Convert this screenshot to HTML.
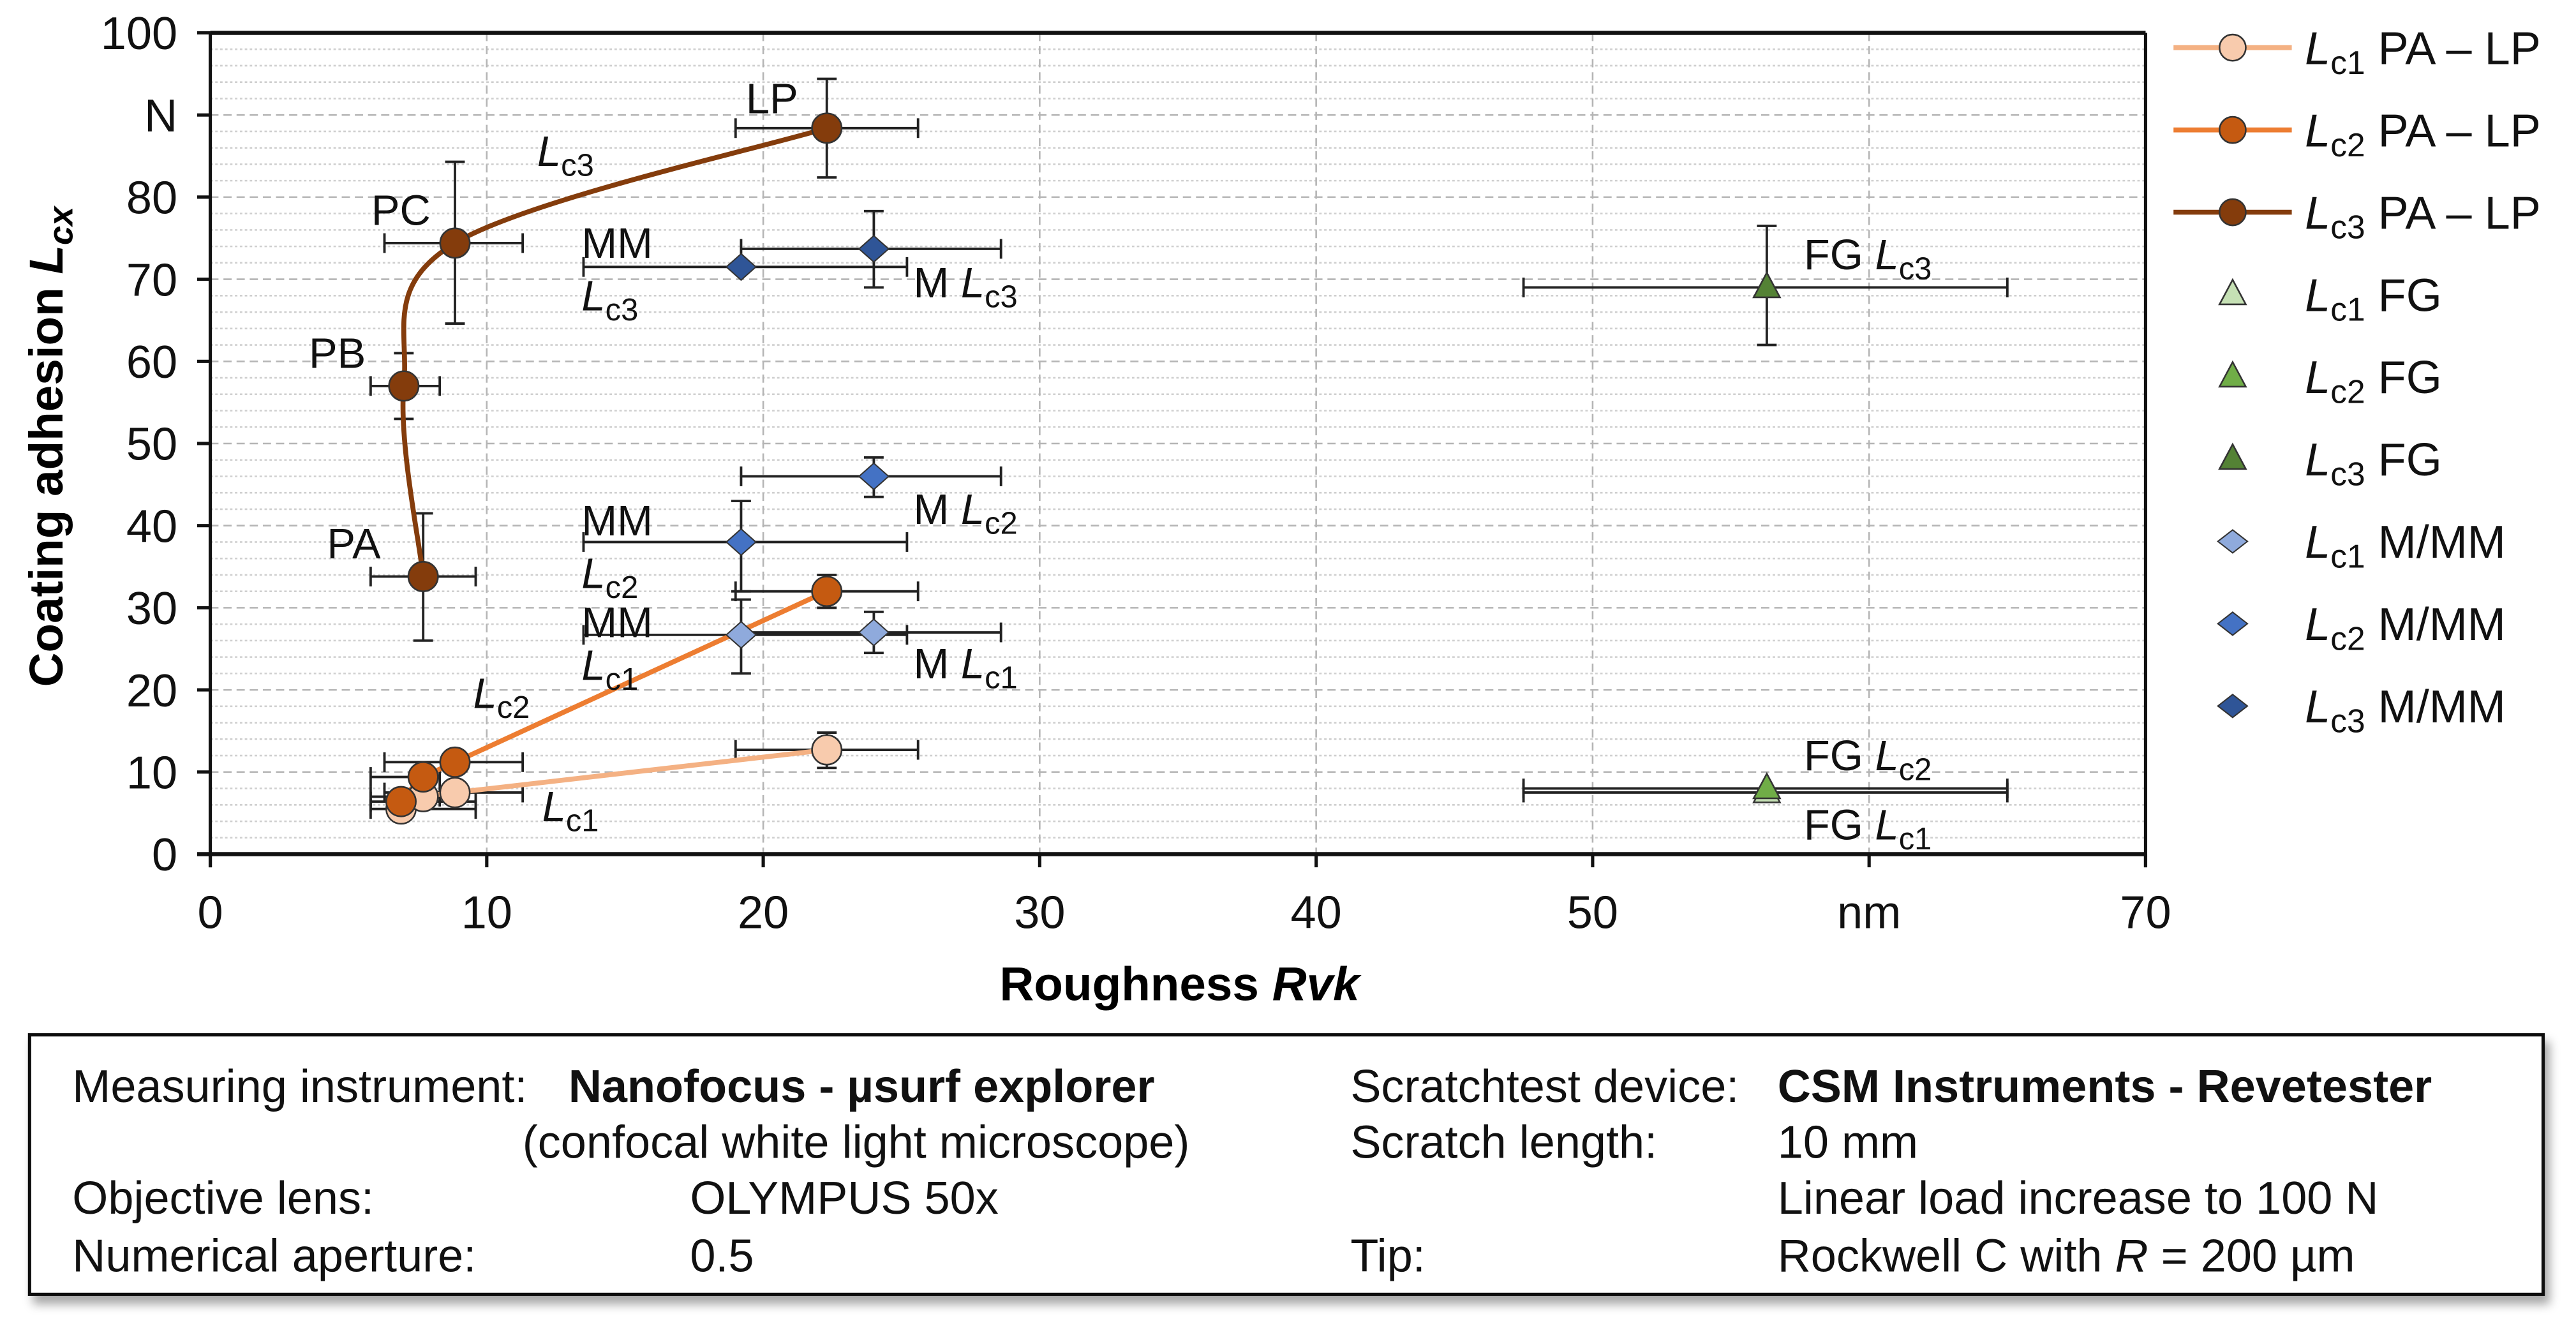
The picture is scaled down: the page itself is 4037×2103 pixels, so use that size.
<!DOCTYPE html>
<html><head><meta charset="utf-8">
<style>
html,body{margin:0;padding:0;background:#fff;}
svg{display:block;font-family:"Liberation Sans",Arial,sans-serif;}
</style></head>
<body>
<svg id="chart" width="4037" height="2103" viewBox="0 0 1568 817" preserveAspectRatio="none" xmlns="http://www.w3.org/2000/svg">
<defs>
<filter id="sh" x="-5%" y="-10%" width="110%" height="130%"><feDropShadow dx="3" dy="5" stdDeviation="3" flood-color="#000" flood-opacity="0.35"/></filter>
</defs>
<g id="grid"></g>
<g id="series"></g>
<g id="axes"></g>
<g id="ann" font-size="26" fill="#111"></g>
<text transform="translate(38,272) rotate(-90)" text-anchor="middle" font-size="29" font-weight="bold">Coating adhesion <tspan font-style="italic">L</tspan><tspan font-style="italic" font-size="21" dy="6">cx</tspan></text>
<text x="718" y="609" text-anchor="middle" font-size="29" font-weight="bold">Roughness <tspan font-style="italic">Rvk</tspan></text>
<g id="legend" font-size="28"></g>
<g font-size="28" fill="#111">
<rect x="18" y="630" width="1530" height="158" fill="#fff" stroke="#111" stroke-width="2" filter="url(#sh)"/>
<text x="44" y="671">Measuring instrument:</text>
<text x="346" y="671" font-weight="bold">Nanofocus - µsurf explorer</text>
<text x="318" y="705">(confocal white light microscope)</text>
<text x="44" y="739">Objective lens:</text>
<text x="420" y="739">OLYMPUS 50x</text>
<text x="44" y="774">Numerical aperture:</text>
<text x="420" y="774">0.5</text>
<text x="822" y="671">Scratchtest device:</text>
<text x="1082" y="671" font-weight="bold">CSM Instruments - Revetester</text>
<text x="822" y="705">Scratch length:</text>
<text x="1082" y="705">10 mm</text>
<text x="1082" y="739">Linear load increase to 100 N</text>
<text x="822" y="774">Tip:</text>
<text x="1082" y="774">Rockwell C with <tspan font-style="italic">R</tspan> = 200 µm</text>
</g>
</svg>
<script>
const xTicks=[0,10,20,30,40,50,60,70];
const xTickLabels=["0","10","20","30","40","50","nm","70"];
const yTicks=[0,10,20,30,40,50,60,70,80,90,100];
const yTickLabels=["0","10","20","30","40","50","60","70","80","N","100"];
// PA-LP series (PA, PB, PC, LP)
const lc3X=[7.7,7.0,8.85,22.3];
const lc3Y=[33.8,57,74.4,88.4];
const lc3XErrLo=[5.8,5.8,6.3,19];
const lc3XErrHi=[9.6,8.3,11.3,25.6];
const lc3YErrLo=[26,53,64.6,82.4];
const lc3YErrHi=[41.5,61,84.3,94.4];
const lc2X=[6.9,7.7,8.85,22.3];
const lc2Y=[6.4,9.4,11.2,32];
const lc1X=[6.9,7.7,8.85,22.3];
const lc1Y=[5.5,7.0,7.5,12.7];
// M/MM (MM, M)
const mX=[19.2,24];
const mLc1=[26.7,27];
const mLc2=[38,46];
const mLc3=[71.5,73.7];
// FG
const fgX=[56.3];
const fgLc1=[7.5];
const fgLc2=[8];
const fgLc3=[69];

const X0=128,X1=1306,Y0=520,Y1=20;
const sx=v=>X0+(v-0)/70*(X1-X0);
const sy=v=>Y0-(v-0)/100*(Y0-Y1);
const NS="http://www.w3.org/2000/svg";
function mk(parent,tag,attrs){const e=document.createElementNS(NS,tag);for(const k in attrs)e.setAttribute(k,attrs[k]);parent.appendChild(e);return e;}
const grid=document.getElementById('grid'),series=document.getElementById('series'),axes=document.getElementById('axes'),ann=document.getElementById('ann'),legend=document.getElementById('legend');

for(let v=2;v<100;v+=2){if(v%10===0)continue;const l=mk(grid,'line',{x1:X0,x2:X1,y1:sy(v),y2:sy(v),stroke:'#cfcfcf','stroke-width':1,'stroke-dasharray':'1.5 1.5'});

}
yTicks.forEach(v=>{if(v===0||v===100)return;const l=mk(grid,'line',{x1:X0,x2:X1,y1:sy(v),y2:sy(v),stroke:'#b5b5b5','stroke-width':1,'stroke-dasharray':'5 3'});

});
xTicks.forEach(v=>{if(v===0||v===70)return;const l=mk(grid,'line',{x1:sx(v),x2:sx(v),y1:Y1,y2:Y0,stroke:'#b5b5b5','stroke-width':1,'stroke-dasharray':'5 3'});

});

mk(axes,'line',{x1:X0,x2:X1,y1:Y1,y2:Y1,stroke:'#111','stroke-width':2.5});
mk(axes,'line',{x1:X1,x2:X1,y1:Y1,y2:Y0+8,stroke:'#111','stroke-width':2});
mk(axes,'line',{x1:X0,x2:X0,y1:Y1,y2:Y0+8,stroke:'#111','stroke-width':2});
mk(axes,'line',{x1:X0-8,x2:X1,y1:Y0,y2:Y0,stroke:'#111','stroke-width':2.5});
yTicks.forEach((v,i)=>{mk(axes,'line',{x1:X0-8,x2:X0,y1:sy(v),y2:sy(v),stroke:'#111','stroke-width':2});
const t=mk(axes,'text',{x:X0-20,y:sy(v)+10,'text-anchor':'end','font-size':28,fill:'#111'});t.textContent=yTickLabels[i];

});
xTicks.forEach((v,i)=>{mk(axes,'line',{x1:sx(v),x2:sx(v),y1:Y0,y2:Y0+8,stroke:'#111','stroke-width':2});
const t=mk(axes,'text',{x:sx(v),y:565,'text-anchor':'middle','font-size':28,fill:'#111'});t.textContent=xTickLabels[i];

});

function errX(x,y,lo,hi,name){const g=mk(series,'g',{stroke:'#222','stroke-width':1.5});


mk(g,'line',{x1:sx(lo),x2:sx(hi),y1:sy(y),y2:sy(y)});mk(g,'line',{x1:sx(lo),x2:sx(lo),y1:sy(y)-6,y2:sy(y)+6});mk(g,'line',{x1:sx(hi),x2:sx(hi),y1:sy(y)-6,y2:sy(y)+6});}
function errY(x,lo,hi,name){const g=mk(series,'g',{stroke:'#222','stroke-width':1.5});


mk(g,'line',{x1:sx(x),x2:sx(x),y1:sy(lo),y2:sy(hi)});mk(g,'line',{x1:sx(x)-6,x2:sx(x)+6,y1:sy(lo),y2:sy(lo)});mk(g,'line',{x1:sx(x)-6,x2:sx(x)+6,y1:sy(hi),y2:sy(hi)});}
function curve(xs,ys){const p=xs.map((x,i)=>[sx(x),sy(ys[i])]);let d='M'+p[0][0]+','+p[0][1];
for(let i=0;i<p.length-1;i++){const a=p[Math.max(0,i-1)],b=p[i],c=p[i+1],e=p[Math.min(p.length-1,i+2)];const t=6;
d+=' C'+(b[0]+(c[0]-a[0])/t)+','+(b[1]+(c[1]-a[1])/t)+' '+(c[0]-(e[0]-b[0])/t)+','+(c[1]-(e[1]-b[1])/t)+' '+c[0]+','+c[1];}return d;}
function tri(x,y,fill,name){const X=sx(x),Y=sy(y);const p=mk(series,'polygon',{points:`${X},${Y-9} ${X-8},${Y+6} ${X+8},${Y+6}`,fill,stroke:'#333','stroke-width':1});

}
function dia(x,y,fill,name){const X=sx(x),Y=sy(y);const p=mk(series,'polygon',{points:`${X},${Y-8} ${X+9},${Y} ${X},${Y+8} ${X-9},${Y}`,fill,stroke:'#333','stroke-width':0.8});

}
function circ(x,y,fill,name){const c=mk(series,'circle',{cx:sx(x),cy:sy(y),r:9,fill,stroke:'#333','stroke-width':1});

}

errX(fgX[0],fgLc3[0],47.5,65,'fg-lc3-xerr');errY(fgX[0],62,76.5,'fg-lc3-yerr');
errX(fgX[0],fgLc2[0],47.5,65,'fg-lc2-xerr');errX(fgX[0],fgLc1[0],47.5,65,'fg-lc1-xerr');
const mXLo=[13.5,19.2],mXHi=[25.2,28.6];
[mLc1,mLc2,mLc3].forEach((arr,k)=>arr.forEach((y,i)=>errX(mX[i],y,mXLo[i],mXHi[i],'mmm-lc'+(k+1)+'-xerr')));
errY(mX[1],69,78.3,'m-lc3-yerr');errY(mX[0],32,43,'mm-lc2-yerr');errY(mX[1],43.5,48.3,'m-lc2-yerr');
errY(mX[0],22,31,'mm-lc1-yerr');errY(mX[1],24.5,29.5,'m-lc1-yerr');
lc3X.forEach((x,i)=>{errX(x,lc3Y[i],lc3XErrLo[i],lc3XErrHi[i],'lc3-xerr');errY(x,lc3YErrLo[i],lc3YErrHi[i],'lc3-yerr');});
lc2X.forEach((x,i)=>errX(x,lc2Y[i],lc3XErrLo[i],lc3XErrHi[i],'lc2-xerr'));
lc1X.forEach((x,i)=>errX(x,lc1Y[i],lc3XErrLo[i],lc3XErrHi[i],'lc1-xerr'));
errY(lc2X[3],30,34,'lc2-lp-yerr');errY(lc1X[3],10.5,14.8,'lc1-lp-yerr');

const colL1='#F4B183',colL2='#ED7D31',colL3='#843C0C';
[[lc1X,lc1Y,colL1,'lc1-line'],[lc2X,lc2Y,colL2,'lc2-line'],[lc3X,lc3Y,colL3,'lc3-line']].forEach(s=>{const p=mk(series,'path',{d:curve(s[0],s[1]),fill:'none',stroke:s[2],'stroke-width':3});

});
lc1X.forEach((x,i)=>circ(x,lc1Y[i],'#F8CBAD','lc1-point'));
lc2X.forEach((x,i)=>circ(x,lc2Y[i],'#C55A11','lc2-point'));
lc3X.forEach((x,i)=>circ(x,lc3Y[i],'#843C0C','lc3-point'));
mX.forEach((x,i)=>{dia(x,mLc1[i],'#8FAADC','mmm-lc1-point');dia(x,mLc2[i],'#4472C4','mmm-lc2-point');dia(x,mLc3[i],'#2F5597','mmm-lc3-point');});
tri(fgX[0],fgLc1[0],'#C5E0B4','fg-lc1-point');tri(fgX[0],fgLc2[0],'#70AD47','fg-lc2-point');tri(fgX[0],fgLc3[0],'#548235','fg-lc3-point');

function lab(x,y,pre,sub,name){const t=mk(ann,'text',{x,y});t.innerHTML=(pre?pre:'')+(sub?'<tspan font-style="italic">L</tspan><tspan font-size="19" dy="6">'+sub+'</tspan>':'');

}
lab(454,69,'LP','','label-lp');lab(226,137,'PC','','label-pc');lab(188,224,'PB','','label-pb');lab(199,340,'PA','','label-pa');
lab(327,101,'','c3','label-lc3');lab(288,431,'','c2','label-lc2');lab(330,500,'','c1','label-lc1');
lab(354,157,'MM','','label-mm-3');lab(354,189,'','c3','label-mm-lc3');lab(556,181,'M ','c3','label-m-lc3');
lab(354,326,'MM','','label-mm-2');lab(354,358,'','c2','label-mm-lc2');lab(556,319,'M ','c2','label-m-lc2');
lab(354,388,'MM','','label-mm-1');lab(354,414,'','c1','label-mm-lc1');lab(556,413,'M ','c1','label-m-lc1');
lab(1098,164,'FG ','c3','label-fg-lc3');lab(1098,469,'FG ','c2','label-fg-lc2');lab(1098,511,'FG ','c1','label-fg-lc1');

const legNames=['c1|PA – LP','c2|PA – LP','c3|PA – LP','c1|FG','c2|FG','c3|FG','c1|M/MM','c2|M/MM','c3|M/MM'];
legNames.forEach((n,i)=>{const y=29+i*50.1;const [s,txt]=n.split('|');const g=mk(legend,'g',{});


const X=1359;
if(i<3){const col=[colL1,colL2,colL3][i],f=['#F8CBAD','#C55A11','#843C0C'][i];mk(g,'line',{x1:1323,x2:1395,y1:y,y2:y,stroke:col,'stroke-width':3});mk(g,'circle',{cx:X,cy:y,r:8,fill:f,stroke:'#333','stroke-width':1});}
else if(i<6){const f=['#C5E0B4','#70AD47','#548235'][i-3];mk(g,'polygon',{points:`${X},${y-9} ${X-8},${y+6} ${X+8},${y+6}`,fill:f,stroke:'#333','stroke-width':1});}
else{const f=['#8FAADC','#4472C4','#2F5597'][i-6];mk(g,'polygon',{points:`${X},${y-7} ${X+9},${y} ${X},${y+7} ${X-9},${y}`,fill:f,stroke:'#333','stroke-width':0.8});}
const t=mk(g,'text',{x:1403,y:y+10,fill:'#111'});t.innerHTML='<tspan font-style="italic">L</tspan><tspan font-size="20" dy="6">'+s+'</tspan><tspan dy="-6"> '+txt+'</tspan>';});
</script>
</body></html>
